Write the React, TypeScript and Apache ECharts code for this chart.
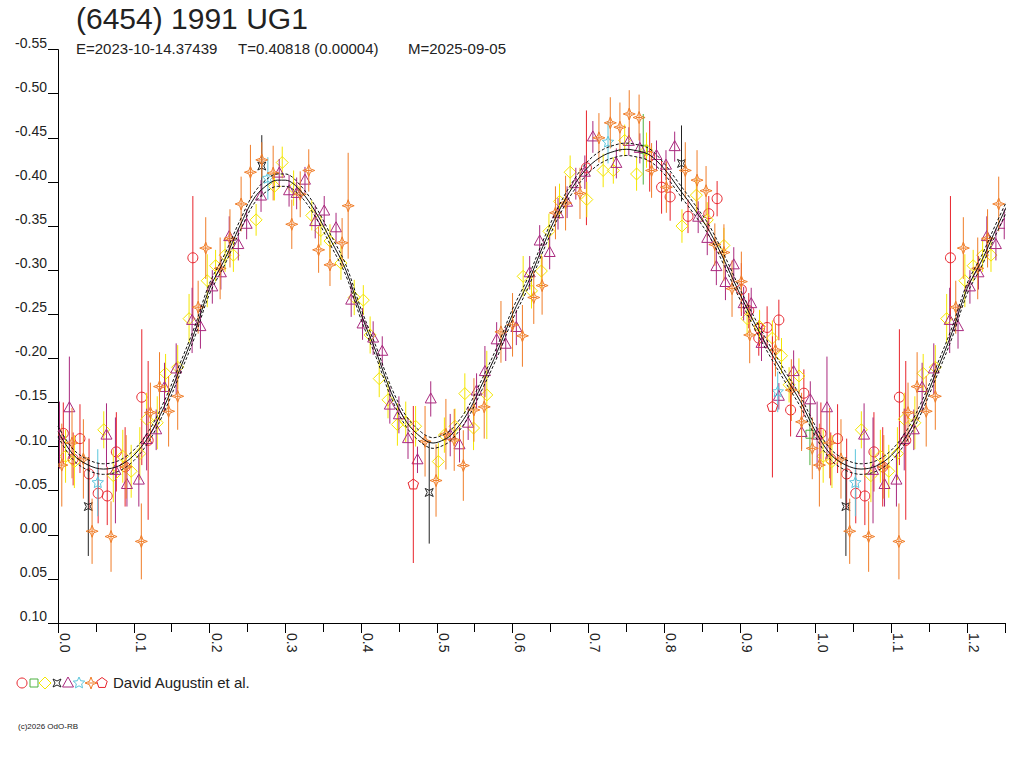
import React, { useEffect, useRef } from "react";
import * as echarts from "echarts";

// ---- Fitted light curve (phase, relative magnitude) ----
const fitPhase = [0.00, 0.02, 0.04, 0.06, 0.08, 0.10, 0.12, 0.14, 0.16, 0.18, 0.20, 0.22, 0.24, 0.26, 0.28, 0.29, 0.30, 0.32, 0.34, 0.36, 0.38, 0.40, 0.42, 0.44, 0.46, 0.48, 0.495, 0.51, 0.52, 0.54, 0.56, 0.58, 0.60, 0.62, 0.64, 0.66, 0.68, 0.70, 0.72, 0.74, 0.75, 0.76, 0.78, 0.80, 0.82, 0.84, 0.86, 0.88, 0.90, 0.92, 0.94, 0.96, 0.98, 1.00];
const fitMag = [-0.117, -0.091, -0.079, -0.0745, -0.078, -0.090, -0.112, -0.145, -0.186, -0.229, -0.279, -0.312, -0.350, -0.383, -0.399, -0.402, -0.402, -0.390, -0.366, -0.334, -0.300, -0.250, -0.207, -0.161, -0.128, -0.110, -0.104, -0.108, -0.114, -0.137, -0.171, -0.208, -0.250, -0.285, -0.327, -0.365, -0.395, -0.417, -0.430, -0.436, -0.437, -0.436, -0.431, -0.415, -0.392, -0.369, -0.344, -0.310, -0.273, -0.239, -0.208, -0.179, -0.151, -0.117];
const fitBand = [0.006, 0.006, 0.006, 0.006, 0.006, 0.006, 0.006, 0.006, 0.006, 0.006, 0.006, 0.006, 0.006, 0.006, 0.007, 0.007, 0.007, 0.006, 0.006, 0.006, 0.006, 0.006, 0.006, 0.006, 0.006, 0.006, 0.006, 0.006, 0.006, 0.006, 0.006, 0.006, 0.006, 0.006, 0.006, 0.006, 0.006, 0.007, 0.007, 0.007, 0.007, 0.007, 0.007, 0.006, 0.006, 0.006, 0.006, 0.006, 0.006, 0.006, 0.006, 0.006, 0.006, 0.006];

// ---- Observations: [phase, magnitude, error] ----
type Pt = [number, number, number];

const redCircles: Pt[] = [
  [0.007, -0.115, 0.035], [0.020, -0.086, 0.030], [0.029, -0.109, 0.039], [0.041, -0.069, 0.040],
  [0.053, -0.047, 0.034], [0.065, -0.044, 0.033], [0.077, -0.094, 0.045], [0.0886, -0.077, 0.045],
  [0.1106, -0.156, 0.077], [0.119, -0.107, 0.090], [0.178, -0.314, 0.070],
  [0.6975, -0.416, 0.065], [0.781, -0.429, 0.040], [0.7967, -0.394, 0.030], [0.808, -0.383, 0.027],
  [0.8316, -0.361, 0.019], [0.859, -0.364, 0.020], [0.870, -0.381, 0.020], [0.902, -0.278, 0.030],
  [0.9118, -0.254, 0.020], [0.925, -0.223, 0.020], [0.926, -0.234, 0.020], [0.936, -0.235, 0.024],
  [0.9515, -0.2435, 0.023], [0.967, -0.1415, 0.030], [0.9845, -0.1605, 0.027],
];

const greenSquares: Pt[] = [
  [0.7725, -0.437, 0.040], [0.9925, -0.114, 0.035],
];

const yellowDiamonds: Pt[] = [
  [0.010, -0.089, 0.030], [0.0216, -0.083, 0.030], [0.0604, -0.119, 0.021], [0.073, -0.067, 0.030],
  [0.0855, -0.089, 0.030], [0.0966, -0.072, 0.030], [0.108, -0.092, 0.030], [0.117, -0.131, 0.030],
  [0.131, -0.127, 0.030], [0.142, -0.183, 0.022], [0.158, -0.190, 0.025], [0.173, -0.245, 0.028],
  [0.197, -0.288, 0.030], [0.208, -0.305, 0.018], [0.2205, -0.317, 0.019], [0.2315, -0.317, 0.019],
  [0.2615, -0.357, 0.018], [0.2857, -0.395, 0.016], [0.296, -0.422, 0.018], [0.311, -0.393, 0.020],
  [0.335, -0.362, 0.017], [0.347, -0.345, 0.017], [0.359, -0.333, 0.019], [0.3735, -0.308, 0.019],
  [0.391, -0.269, 0.020], [0.403, -0.266, 0.017], [0.412, -0.2265, 0.021], [0.424, -0.177, 0.021],
  [0.4356, -0.153, 0.021], [0.448, -0.125, 0.024], [0.459, -0.128, 0.023], [0.472, -0.123, 0.023],
  [0.502, -0.083, 0.021], [0.510, -0.113, 0.020], [0.524, -0.123, 0.020], [0.537, -0.160, 0.023],
  [0.5485, -0.121, 0.025], [0.566, -0.1585, 0.050], [0.614, -0.293, 0.023], [0.625, -0.2765, 0.020],
  [0.638, -0.299, 0.019], [0.648, -0.344, 0.020], [0.662, -0.378, 0.020], [0.676, -0.411, 0.019],
  [0.698, -0.380, 0.020], [0.7196, -0.413, 0.019], [0.733, -0.413, 0.015], [0.748, -0.447, 0.018],
  [0.7637, -0.409, 0.019], [0.7768, -0.436, 0.020], [0.8236, -0.350, 0.019], [0.8426, -0.385, 0.020],
  [0.857, -0.357, 0.020], [0.879, -0.328, 0.020], [0.9096, -0.245, 0.018], [0.926, -0.236, 0.019],
  [0.943, -0.223, 0.020], [0.955, -0.203, 0.020], [0.965, -0.170, 0.020], [0.978, -0.180, 0.020],
];

const blackCrosses: Pt[] = [
  [0.040, -0.032, 0.056], [0.269, -0.418, 0.035], [0.490, -0.048, 0.058], [0.823, -0.421, 0.043],
];

const purpleTriangles: Pt[] = [
  [0.002, -0.113, 0.038], [0.015, -0.144, 0.058], [0.064, -0.113, 0.036], [0.0758, -0.073, 0.060],
  [0.091, -0.057, 0.025], [0.1067, -0.062, 0.030], [0.117, -0.108, 0.035], [0.1296, -0.119, 0.023],
  [0.1406, -0.167, 0.028], [0.156, -0.188, 0.029], [0.177, -0.243, 0.037], [0.188, -0.236, 0.025],
  [0.2037, -0.281, 0.019], [0.215, -0.297, 0.019], [0.226, -0.338, 0.023], [0.238, -0.329, 0.018],
  [0.249, -0.352, 0.017], [0.268, -0.384, 0.018], [0.292, -0.410, 0.016], [0.305, -0.390, 0.018],
  [0.315, -0.387, 0.018], [0.326, -0.402, 0.015], [0.3395, -0.355, 0.019], [0.3514, -0.367, 0.017],
  [0.367, -0.348, 0.017], [0.387, -0.266, 0.019], [0.402, -0.239, 0.018], [0.416, -0.223, 0.019],
  [0.428, -0.208, 0.017], [0.438, -0.147, 0.021], [0.450, -0.136, 0.021], [0.462, -0.109, 0.023],
  [0.4745, -0.085, 0.015], [0.492, -0.154, 0.020], [0.5177, -0.113, 0.024], [0.530, -0.102, 0.020],
  [0.5414, -0.1265, 0.019], [0.5525, -0.163, 0.020], [0.5635, -0.185, 0.029], [0.579, -0.221, 0.020],
  [0.591, -0.216, 0.019], [0.605, -0.235, 0.020], [0.6226, -0.297, 0.019], [0.6358, -0.333, 0.018],
  [0.649, -0.320, 0.019], [0.660, -0.364, 0.018], [0.672, -0.377, 0.018], [0.6835, -0.398, 0.018],
  [0.6954, -0.411, 0.019], [0.706, -0.451, 0.018], [0.737, -0.421, 0.017], [0.7535, -0.446, 0.016],
  [0.768, -0.438, 0.017], [0.790, -0.430, 0.017], [0.8025, -0.419, 0.017], [0.814, -0.440, 0.017],
  [0.845, -0.360, 0.018], [0.857, -0.336, 0.019], [0.869, -0.304, 0.021], [0.881, -0.286, 0.020],
  [0.892, -0.306, 0.020], [0.905, -0.262, 0.019], [0.915, -0.262, 0.018], [0.9286, -0.217, 0.020],
  [0.9515, -0.157, 0.015], [0.971, -0.185, 0.024], [0.9815, -0.116, 0.019], [0.993, -0.153, 0.021],
];

const cyanStars: Pt[] = [
  [0.0525, -0.059, 0.038], [0.277, -0.404, 0.024], [0.726, -0.445, 0.024], [0.950, -0.162, 0.023],
];

const orangeSparks: Pt[] = [
  [0.005, -0.079, 0.047], [0.0185, -0.104, 0.040], [0.0335, -0.086, 0.045], [0.045, -0.004, 0.037],
  [0.070, 0.002, 0.040], [0.090, -0.077, 0.036], [0.110, 0.0075, 0.043], [0.122, -0.1385, 0.034],
  [0.134, -0.168, 0.039], [0.146, -0.140, 0.040], [0.158, -0.157, 0.038], [0.185, -0.258, 0.030],
  [0.195, -0.325, 0.035], [0.214, -0.302, 0.035], [0.227, -0.336, 0.033], [0.2417, -0.375, 0.031],
  [0.254, -0.411, 0.031], [0.269, -0.425, 0.020], [0.284, -0.410, 0.031], [0.3086, -0.352, 0.028],
  [0.3197, -0.386, 0.026], [0.331, -0.413, 0.024], [0.344, -0.323, 0.026], [0.359, -0.306, 0.024],
  [0.375, -0.331, 0.028], [0.383, -0.373, 0.060], [0.4845, -0.106, 0.040], [0.499, -0.0615, 0.041],
  [0.512, -0.114, 0.040], [0.523, -0.1075, 0.035], [0.535, -0.0785, 0.040], [0.549, -0.1415, 0.036],
  [0.5626, -0.145, 0.036], [0.5847, -0.230, 0.035], [0.600, -0.238, 0.036], [0.613, -0.2255, 0.035],
  [0.628, -0.269, 0.030], [0.639, -0.2825, 0.033], [0.6566, -0.365, 0.030], [0.670, -0.376, 0.031],
  [0.689, -0.387, 0.029], [0.714, -0.450, 0.028], [0.729, -0.467, 0.029], [0.7417, -0.462, 0.028],
  [0.754, -0.477, 0.027], [0.767, -0.473, 0.026], [0.7835, -0.413, 0.031], [0.803, -0.394, 0.029],
  [0.828, -0.413, 0.032], [0.8435, -0.402, 0.034], [0.8554, -0.390, 0.028], [0.867, -0.329, 0.024],
  [0.879, -0.320, 0.032], [0.8897, -0.279, 0.032], [0.902, -0.287, 0.034], [0.913, -0.2265, 0.032],
  [0.947, -0.2095, 0.030], [0.968, -0.164, 0.035], [0.9815, -0.128, 0.033], [0.9956, -0.098, 0.035],
];

const redPentagons: Pt[] = [
  [0.469, -0.057, 0.089], [0.943, -0.145, 0.080],
];

// ---- Axis / text ----
const PHASE_MAX = 1.25;
const xTickStep = 0.1;
const yMin = -0.55;
const yMax = 0.1;
const yTickStep = 0.05;
const titleText = "(6454) 1991 UG1";
const subE = "E=2023-10-14.37439";
const subT = "T=0.40818 (0.00004)";
const subM = "M=2025-09-05";
const legendText = "David Augustin et al.";
const footerText = "(c)2026 OdO-RB";

const FONT = '"Liberation Sans", Arial, Helvetica, sans-serif';

// phase-folded plot repeats the first quarter after 1.0
function wrap(pts: Pt[]): Pt[] {
  const out: Pt[] = pts.slice();
  pts.forEach((p) => {
    if (p[0] + 1 <= PHASE_MAX) out.push([p[0] + 1, p[1], p[2]]);
  });
  return out;
}

function symbolEl(kind: string, cx: number, cy: number, color: string): any {
  const st = { fill: "none", stroke: color, lineWidth: 1 };
  switch (kind) {
    case "circle":
      return { type: "circle", shape: { cx, cy, r: 5 }, style: st };
    case "square":
      return { type: "rect", shape: { x: cx - 4, y: cy - 4, width: 8, height: 8 }, style: st };
    case "diamond":
      return { type: "polygon", shape: { points: [[cx, cy - 6], [cx + 6, cy], [cx, cy + 6], [cx - 6, cy]] }, style: st };
    case "cross":
      return {
        type: "polygon",
        shape: { points: [[cx - 4, cy - 4], [cx, cy - 2], [cx + 4, cy - 4], [cx + 2, cy], [cx + 4, cy + 4], [cx, cy + 2], [cx - 4, cy + 4], [cx - 2, cy]] },
        style: st,
      };
    case "triangle":
      return { type: "polygon", shape: { points: [[cx, cy - 6], [cx + 5.5, cy + 4], [cx - 5.5, cy + 4]] }, style: st };
    case "star": {
      const pts: number[][] = [];
      for (let i = 0; i < 10; i++) {
        const r = i % 2 === 0 ? 6 : 2.8;
        const a = -Math.PI / 2 + (i * Math.PI) / 5;
        pts.push([cx + r * Math.cos(a), cy + r * Math.sin(a)]);
      }
      return { type: "polygon", shape: { points: pts }, style: st };
    }
    case "spark":
      return {
        type: "group",
        children: [
          {
            type: "polygon",
            shape: { points: [[cx, cy - 6], [cx + 1.6, cy - 1.6], [cx + 6, cy], [cx + 1.6, cy + 1.6], [cx, cy + 6], [cx - 1.6, cy + 1.6], [cx - 6, cy], [cx - 1.6, cy - 1.6]] },
            style: st,
          },
          { type: "line", shape: { x1: cx - 3, y1: cy, x2: cx + 3, y2: cy }, style: { stroke: color, lineWidth: 1 } },
        ],
      };
    case "pentagon": {
      const pts: number[][] = [];
      for (let i = 0; i < 5; i++) {
        const a = -Math.PI / 2 + (i * 2 * Math.PI) / 5;
        pts.push([cx + 5.5 * Math.cos(a), cy + 5.5 * Math.sin(a)]);
      }
      return { type: "polygon", shape: { points: pts }, style: st };
    }
  }
  return { type: "group", children: [] };
}

const groups = [
  { name: "circle", color: "#e8242c", data: redCircles },
  { name: "square", color: "#4cb140", data: greenSquares },
  { name: "diamond", color: "#f4e600", data: yellowDiamonds },
  { name: "cross", color: "#222222", data: blackCrosses },
  { name: "triangle", color: "#a9297e", data: purpleTriangles },
  { name: "star", color: "#5cc6dc", data: cyanStars },
  { name: "spark", color: "#f07d28", data: orangeSparks },
  { name: "pentagon", color: "#e8242c", data: redPentagons },
];

function makeSeries(kind: string, color: string, data: Pt[]): any {
  return {
    type: "custom",
    name: kind,
    clip: true,
    data: wrap(data),
    encode: { x: 0, y: 1 },
    renderItem: (_params: any, api: any) => {
      const x = api.value(0);
      const y = api.value(1);
      const e = api.value(2);
      const c = api.coord([x, y]);
      const t = api.coord([x, y - e]);
      const b = api.coord([x, y + e]);
      return {
        type: "group",
        children: [
          { type: "line", shape: { x1: c[0], y1: t[1], x2: c[0], y2: b[1] }, style: { stroke: color, lineWidth: 1 } },
          symbolEl(kind, c[0], c[1], color),
        ],
      };
    },
  };
}

function fitLine(offsetSign: number): any {
  const pts: number[][] = [];
  for (let k = 0; k < 2; k++) {
    fitPhase.forEach((p, i) => {
      if (k === 1 && p === 0) return;
      const ph = p + k;
      if (ph > PHASE_MAX + 0.03) return;
      pts.push([ph, fitMag[i] + offsetSign * fitBand[i]]);
    });
  }
  return {
    type: "line",
    data: pts,
    smooth: 0.35,
    showSymbol: false,
    clip: true,
    z: 5,
    lineStyle: { color: "#111", width: 1, type: offsetSign === 0 ? "solid" : [3, 2] },
    silent: true,
  };
}

export default function App() {
  const ref = useRef<HTMLDivElement>(null);
  useEffect(() => {
    if (!ref.current) return;
    const chart = echarts.init(ref.current, undefined, { renderer: "svg" });
    const legendKinds = ["circle", "square", "diamond", "cross", "triangle", "star", "spark", "pentagon"];
    const legendX = [22, 34, 45, 57, 68, 79, 91, 102];
    const legendEls: any[] = legendKinds.map((k, i) => symbolEl(k, legendX[i], 683, groups[i].color));
    const option: any = {
      animation: false,
      backgroundColor: "#ffffff",
      textStyle: { fontFamily: FONT },
      grid: { left: 58, right: 19, top: 49.6, bottom: 145, containLabel: false },
      xAxis: {
        type: "value",
        min: 0,
        max: PHASE_MAX,
        interval: xTickStep,
        axisLine: { show: true, onZero: false, lineStyle: { color: "#000", width: 1 } },
        axisTick: { show: true, length: 10, lineStyle: { color: "#000", width: 1 } },
        minorTick: { show: true, splitNumber: 2, length: 9, lineStyle: { color: "#000", width: 1 } },
        splitLine: { show: false },
        axisLabel: {
          rotate: -90,
          margin: 10,
          fontSize: 14,
          color: "#222",
          fontFamily: FONT,
          showMaxLabel: false,
          verticalAlign: "bottom",
          formatter: (v: number) => v.toFixed(1),
        },
      },
      yAxis: {
        type: "value",
        inverse: true,
        min: yMin,
        max: yMax,
        interval: yTickStep,
        axisLine: { show: true, onZero: false, lineStyle: { color: "#000", width: 1 } },
        axisTick: { show: true, length: 10, lineStyle: { color: "#000", width: 1 } },
        splitLine: { show: false },
        axisLabel: {
          margin: 11,
          fontSize: 14,
          color: "#222",
          fontFamily: FONT,
          verticalAlign: "bottom",
          formatter: (v: number) => (Math.abs(v) < 1e-9 ? "0.00" : v.toFixed(2)),
        },
      },
      graphic: [
        { type: "text", left: 76, top: 3, style: { text: titleText, font: `30px ${FONT}`, fill: "#222" } },
        { type: "text", left: 76, top: 41, style: { text: subE, font: `15px ${FONT}`, fill: "#222" } },
        { type: "text", left: 238, top: 41, style: { text: subT, font: `15px ${FONT}`, fill: "#222" } },
        { type: "text", left: 408, top: 41, style: { text: subM, font: `15px ${FONT}`, fill: "#222" } },
        ...legendEls,
        { type: "text", left: 113, top: 675, style: { text: legendText, font: `15px ${FONT}`, fill: "#222" } },
        { type: "text", left: 18, top: 722, style: { text: footerText, font: `8px ${FONT}`, fill: "#222" } },
      ],
      series: [
        ...groups.map((g) => makeSeries(g.name, g.color, g.data)),
        fitLine(-1),
        fitLine(0),
        fitLine(1),
      ],
    };
    chart.setOption(option);
    return () => chart.dispose();
  }, []);
  return (
    <div
      ref={ref}
      style={{ position: "fixed", left: 0, top: 0, width: 1024, height: 768, background: "#fff" }}
    />
  );
}
